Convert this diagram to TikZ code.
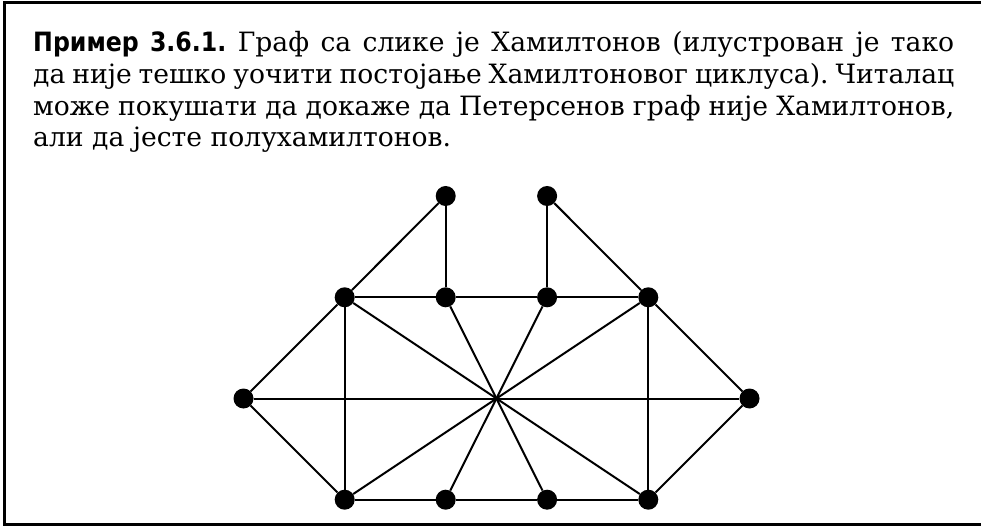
\documentclass[tikz,border=0pt]{standalone}
\usepackage{fontspec}
\setmainfont{DejaVu Serif}
\newfontfamily\labelsans{DejaVu Sans}[FakeStretch=0.89]
\frenchspacing
\begin{document}
\begin{tikzpicture}[x=1bp,y=-1bp,
  txt/.style={inner sep=0pt, anchor=base west, font=\fontsize{26.6bp}{31.7bp}\selectfont\frenchspacing},
  dot/.style={circle, fill=black, minimum size=20bp, inner sep=0pt},
  edge/.style={line width=2bp},
  frame/.style={line width=3bp}]
\useasboundingbox (0,0) rectangle (981,526);
\draw[frame] (985,2.5) -- (4.5,2.5) -- (4.5,524) -- (985,524);
% text
\node[txt] (l1) at (33,51.7) {\makebox[921bp][s]{{\labelsans\bfseries Пример 3.6.1.}\ Граф са слике је Хамилтонов (илустрован је тако}};
\node[txt] (l2) at (33,83.4) {\makebox[921bp][s]{да није тешко уочити постојање Хамилтоновог циклуса). Читалац}};
\node[txt] (l3) at (33,115.1) {\makebox[921bp][s]{може покушати да докаже да Петерсенов граф није Хамилтонов,}};
\node[txt] (l4) at (33,146.8) {али да јесте полухамилтонов.};
% vertices
\node[dot] (t1) at (445.7,196) {};
\node[dot] (t2) at (547.1,196) {};
\node[dot] (m1) at (344.7,297.3) {};
\node[dot] (m2) at (445.7,297.3) {};
\node[dot] (m3) at (547.1,297.3) {};
\node[dot] (m4) at (648.3,297.3) {};
\node[dot] (lf) at (243.5,398.5) {};
\node[dot] (rt) at (749.5,398.5) {};
\node[dot] (b1) at (344.7,499.7) {};
\node[dot] (b2) at (445.7,499.7) {};
\node[dot] (b3) at (547.1,499.7) {};
\node[dot] (b4) at (648.3,499.7) {};
% edges
\draw[edge] (t1) -- (m1);
\draw[edge] (t1) -- (m2);
\draw[edge] (t2) -- (m3);
\draw[edge] (t2) -- (m4);
\draw[edge] (m1) -- (m2);
\draw[edge] (m2) -- (m3);
\draw[edge] (m3) -- (m4);
\draw[edge] (m1) -- (lf);
\draw[edge] (m1) -- (b1);
\draw[edge] (m4) -- (rt);
\draw[edge] (m4) -- (b4);
\draw[edge] (lf) -- (b1);
\draw[edge] (rt) -- (b4);
\draw[edge] (b1) -- (b2);
\draw[edge] (b2) -- (b3);
\draw[edge] (b3) -- (b4);
\draw[edge] (lf) -- (rt);
\draw[edge] (m1) -- (b4);
\draw[edge] (m4) -- (b1);
\draw[edge] (m2) -- (b3);
\draw[edge] (m3) -- (b2);
\end{tikzpicture}
\end{document}
